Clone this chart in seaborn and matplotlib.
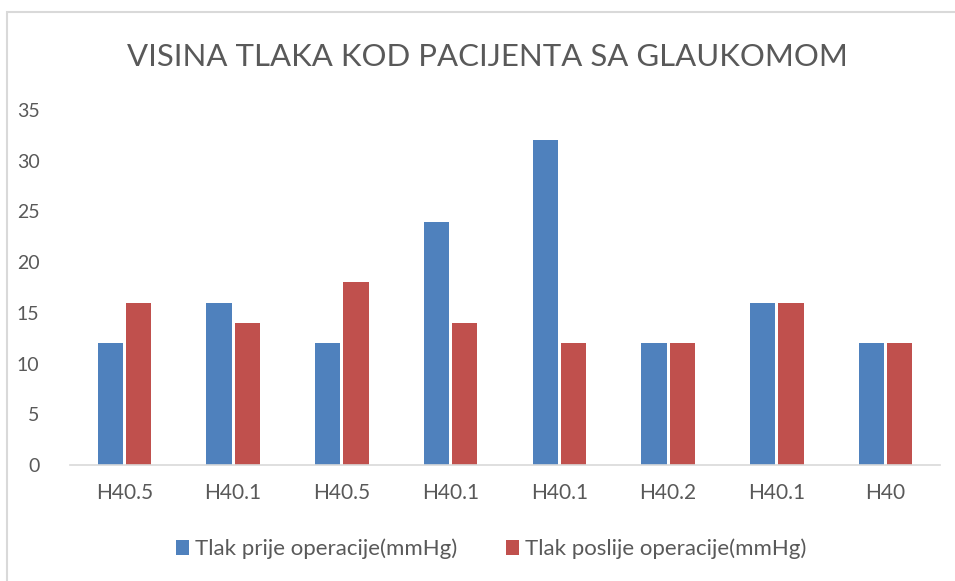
import pandas as pd
import matplotlib.pyplot as plt
import seaborn as sns
from matplotlib.patches import Rectangle

categories = ["H40.5", "H40.1", "H40.5", "H40.1", "H40.1", "H40.2", "H40.1", "H40"]
prije = [12, 16, 12, 24, 32, 12, 16, 12]
poslije = [16, 14, 18, 14, 12, 12, 16, 12]
series = ["Tlak prije operacije(mmHg)", "Tlak poslije operacije(mmHg)"]
yticks = [0, 5, 10, 15, 20, 25, 30, 35]

df = pd.DataFrame({
    "poz": list(range(len(categories))) * 2,
    "tlak": prije + poslije,
    "serija": [series[0]] * len(prije) + [series[1]] * len(poslije),
})

sns.set_theme(style="white")
plt.rcParams["font.family"] = ["Lato", "DejaVu Sans"]
text_col = "#595959"

fig = plt.figure(figsize=(9.55, 5.81), dpi=100)
ax = fig.add_axes([70 / 955, 1 - 465 / 581, 870 / 955, 355 / 581])

sns.barplot(data=df, x="poz", y="tlak", hue="serija", hue_order=series,
            palette=["#4F81BD", "#C0504D"], saturation=1, width=0.52, gap=0.1,
            edgecolor="none", ax=ax)

ax.set_ylim(0, 35)
ax.set_yticks(yticks)
ax.set_xticks(range(len(categories)))
ax.set_xticklabels(categories)
ax.set_xlabel("")
ax.set_ylabel("")
ax.tick_params(axis="both", length=0, labelsize=14, colors=text_col)
ax.tick_params(axis="x", labelsize=15, pad=13)
ax.tick_params(axis="y", pad=22)
for s in ["top", "right", "left"]:
    ax.spines[s].set_visible(False)
ax.spines["bottom"].set_color("#D9D9D9")
ax.spines["bottom"].set_linewidth(1.2)

ax.get_legend().remove()
handles, labels = ax.get_legend_handles_labels()
fig.legend(handles, labels, loc="center", bbox_to_anchor=(491 / 955, 1 - 549 / 581),
           ncol=2, frameon=False, fontsize=16, labelcolor=text_col,
           handlelength=0.6, handleheight=0.6, handletextpad=0.25, columnspacing=2.2)

fig.text(487 / 955, 1 - 57 / 581, "VISINA TLAKA KOD PACIJENTA SA GLAUKOMOM",
         ha="center", va="center", fontsize=22.4, color=text_col)

# chart border (only top and left edges visible in the crop)
fig.patches.append(Rectangle((7 / 955, -0.1), 2, 1.1 - 12 / 581, transform=fig.transFigure,
                             fill=False, edgecolor="#D9D9D9", linewidth=1.5))

fig.savefig("out.png", dpi=100)
